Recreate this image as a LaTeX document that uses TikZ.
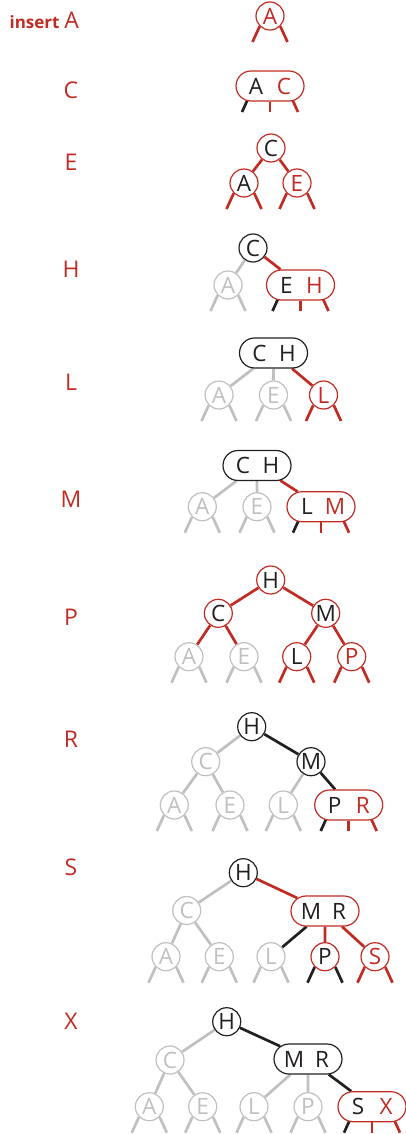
\documentclass[tikz,border=0pt]{standalone}
\usepackage{fontspec}
\setmainfont{Open Sans}
\usetikzlibrary{calc,backgrounds,shapes.misc}

\definecolor{tred}{RGB}{192,44,36}
\definecolor{ink}{RGB}{35,31,32}
\definecolor{pale}{RGB}{192,192,192}

% two keys inside a 3-node
\newcommand{\pairkeys}[4]{\makebox[38pt]{\makebox[0pt]{\textcolor{#1}{#2}}\hspace{28pt}\makebox[0pt]{\textcolor{#3}{#4}}}}
% null links below a 2-node / 3-node
\newcommand{\twolegs}[3]{%
  \coordinate (#1-l) at ($(#1)+(-17.5,26)$);
  \coordinate (#1-r) at ($(#1)+(17.5,26)$);
  \draw[link,#2] (#1.225) -- (#1-l);
  \draw[link,#3] (#1.-45) -- (#1-r);}
\newcommand{\threelegs}[4]{%
  \coordinate (#1-l) at ($(#1)+(-28,26)$);
  \coordinate (#1-m) at ($(#1)+(0,26)$);
  \coordinate (#1-r) at ($(#1)+(28,26)$);
  \draw[link,#2] ($(#1)+(-19.8,8)$) -- (#1-l);
  \draw[link,#3] (#1) -- (#1-m);
  \draw[link,#4] ($(#1)+(19.8,8)$) -- (#1-r);}

\begin{document}
\begin{tikzpicture}[x=1pt, y=-1pt,
    key/.style={circle, draw, fill=white, line width=1.2pt, minimum size=28pt, inner sep=0pt, font=\fontsize{22.5}{22.5}\selectfont},
    rkey/.style={key, draw=tred, text=ink},
    rnew/.style={key, draw=tred, text=tred},
    bkey/.style={key, draw=ink, text=ink},
    gkey/.style={key, draw=pale, text=pale},
    pair/.style={rounded rectangle, draw, fill=white, line width=1.2pt, minimum width=68pt, minimum height=30pt, inner sep=0pt, font=\fontsize{22.5}{22.5}\selectfont},
    rpair/.style={pair, draw=tred},
    bpair/.style={pair, draw=ink},
    link/.style={line width=2.7pt},
    tag/.style={text=tred, inner sep=0pt, font=\fontsize{23}{23}\selectfont}
]
\useasboundingbox (0,0) rectangle (406,1134);

% insert A
\node[tag] (lblA) at (71.7,20) {A};
\node[tag, font=\bfseries\fontsize{17}{17}\selectfont, anchor=base east] (ins) at ([xshift=-4.5pt]lblA.base west) {insert};
\node[rnew] (A1) at (270,16) {A};
\begin{scope}[on background layer]
\twolegs{A1}{tred}{tred}
\end{scope}

% C
\node[tag] (lblC) at (71,90) {C};
\node[rpair] (AC2) at (270,86) {\pairkeys{ink}{A}{tred}{C}};
\begin{scope}[on background layer]
\threelegs{AC2}{ink}{tred}{tred}
\end{scope}

% E
\node[tag] (lblE) at (71,162) {E};
\node[rkey] (C3) at (271,148) {C};
\node[rkey] (A3) at (244,183) {A};
\node[rnew] (E3) at (297,183) {E};
\begin{scope}[on background layer]
\draw[link,tred] (C3) -- (A3);
\draw[link,tred] (C3) -- (E3);
\twolegs{A3}{tred}{tred}
\twolegs{E3}{tred}{tred}
\end{scope}

% H
\node[tag] (lblH) at (71,269) {H};
\node[bkey] (C4) at (253,248) {C};
\node[gkey] (A4) at (228,285) {A};
\node[rpair] (EH4) at (300.5,285) {\pairkeys{ink}{E}{tred}{H}};
\begin{scope}[on background layer]
\draw[link,pale] (C4) -- (A4);
\draw[link,tred] (C4) -- (EH4);
\twolegs{A4}{pale}{pale}
\threelegs{EH4}{ink}{tred}{tred}
\end{scope}

% L
\node[tag] (lblL) at (71,382) {L};
\node[bpair] (CH5) at (273.5,353) {\pairkeys{ink}{C}{ink}{H}};
\node[gkey] (A5) at (219,395) {A};
\node[gkey] (E5) at (273.5,395) {E};
\node[rnew] (L5) at (323.5,395) {L};
\begin{scope}[on background layer]
\draw[link,pale] (CH5) -- (A5);
\draw[link,pale] (CH5) -- (E5);
\draw[link,tred] (CH5) -- (L5);
\twolegs{A5}{pale}{pale}
\twolegs{E5}{pale}{pale}
\twolegs{L5}{tred}{tred}
\end{scope}

% M
\node[tag] (lblM) at (71,499) {M};
\node[bpair] (CH6) at (257,465.5) {\pairkeys{ink}{C}{ink}{H}};
\node[gkey] (A6) at (202.3,506.7) {A};
\node[gkey] (E6) at (257,506.7) {E};
\node[rpair] (LM6) at (321,506.7) {\pairkeys{ink}{L}{tred}{M}};
\begin{scope}[on background layer]
\draw[link,pale] (CH6) -- (A6);
\draw[link,pale] (CH6) -- (E6);
\draw[link,tred] (CH6) -- (LM6);
\twolegs{A6}{pale}{pale}
\twolegs{E6}{pale}{pale}
\threelegs{LM6}{ink}{tred}{tred}
\end{scope}

% P
\node[tag] (lblP) at (71,617) {P};
\node[rkey] (H7) at (270.7,580) {H};
\node[rkey] (C7) at (218.3,613.3) {C};
\node[rkey] (M7) at (325.7,613.3) {M};
\node[gkey] (A7) at (189,656.7) {A};
\node[gkey] (E7) at (244,656.7) {E};
\node[rkey] (L7) at (296.7,656.7) {L};
\node[rnew] (P7) at (351.7,656.7) {P};
\begin{scope}[on background layer]
\draw[link,tred] (H7) -- (C7);
\draw[link,tred] (H7) -- (M7);
\draw[link,tred] (C7) -- (A7);
\draw[link,tred] (C7) -- (E7);
\draw[link,tred] (M7) -- (L7);
\draw[link,tred] (M7) -- (P7);
\twolegs{A7}{pale}{pale}
\twolegs{E7}{pale}{pale}
\twolegs{L7}{tred}{tred}
\twolegs{P7}{tred}{tred}
\end{scope}

% R
\node[tag] (lblR) at (71,739) {R};
\node[bkey] (H8) at (251.7,726.7) {H};
\node[gkey] (C8) at (205.7,761.7) {C};
\node[bkey] (M8) at (311,761.7) {M};
\node[gkey] (A8) at (174.3,805) {A};
\node[gkey] (E8) at (230,805) {E};
\node[gkey] (L8) at (283.3,805) {L};
\node[rpair] (PR8) at (348.7,805) {\pairkeys{ink}{P}{tred}{R}};
\begin{scope}[on background layer]
\draw[link,pale] (H8) -- (C8);
\draw[link,ink] (H8) -- (M8);
\draw[link,pale] (C8) -- (A8);
\draw[link,pale] (C8) -- (E8);
\draw[link,pale] (M8) -- (L8);
\draw[link,ink] (M8) -- (PR8);
\twolegs{A8}{pale}{pale}
\twolegs{E8}{pale}{pale}
\twolegs{L8}{pale}{pale}
\threelegs{PR8}{ink}{tred}{tred}
\end{scope}

% S
\node[tag] (lblS) at (71,867) {S};
\node[bkey] (H9) at (243.3,872.7) {H};
\node[gkey] (C9) at (186.7,910.5) {C};
\node[rpair] (MR9) at (325,911) {\pairkeys{ink}{M}{ink}{R}};
\node[gkey] (A9) at (166,956.7) {A};
\node[gkey] (E9) at (219.3,956.7) {E};
\node[gkey] (L9) at (271,956.7) {L};
\node[rkey] (P9) at (325,956.7) {P};
\node[rnew] (S9) at (375,956.7) {S};
\begin{scope}[on background layer]
\draw[link,pale] (H9) -- (C9);
\draw[link,tred] (H9) -- (MR9);
\draw[link,pale] (C9) -- (A9);
\draw[link,pale] (C9) -- (E9);
\draw[link,ink] (MR9) -- (L9);
\draw[link,tred] (MR9) -- (P9);
\draw[link,tred] (MR9) -- (S9);
\twolegs{A9}{pale}{pale}
\twolegs{E9}{pale}{pale}
\twolegs{L9}{pale}{pale}
\twolegs{P9}{ink}{ink}
\twolegs{S9}{tred}{tred}
\end{scope}

% X
\node[tag] (lblX) at (71,1021) {X};
\node[bkey] (H10) at (226.7,1021.7) {H};
\node[gkey] (C10) at (170,1060) {C};
\node[bpair] (MR10) at (308,1059) {\pairkeys{ink}{M}{ink}{R}};
\node[gkey] (A10) at (149.3,1106.7) {A};
\node[gkey] (E10) at (202.7,1106.7) {E};
\node[gkey] (L10) at (254,1106.7) {L};
\node[gkey] (P10) at (308,1106.7) {P};
\node[rpair] (SX10) at (372,1106.7) {\pairkeys{ink}{S}{tred}{X}};
\begin{scope}[on background layer]
\draw[link,pale] (H10) -- (C10);
\draw[link,ink] (H10) -- (MR10);
\draw[link,pale] (C10) -- (A10);
\draw[link,pale] (C10) -- (E10);
\draw[link,pale] (MR10) -- (L10);
\draw[link,pale] (MR10) -- (P10);
\draw[link,ink] (MR10) -- (SX10);
\twolegs{A10}{pale}{pale}
\twolegs{E10}{pale}{pale}
\twolegs{L10}{pale}{pale}
\twolegs{P10}{pale}{pale}
\threelegs{SX10}{ink}{tred}{tred}
\end{scope}

\end{tikzpicture}
\end{document}
